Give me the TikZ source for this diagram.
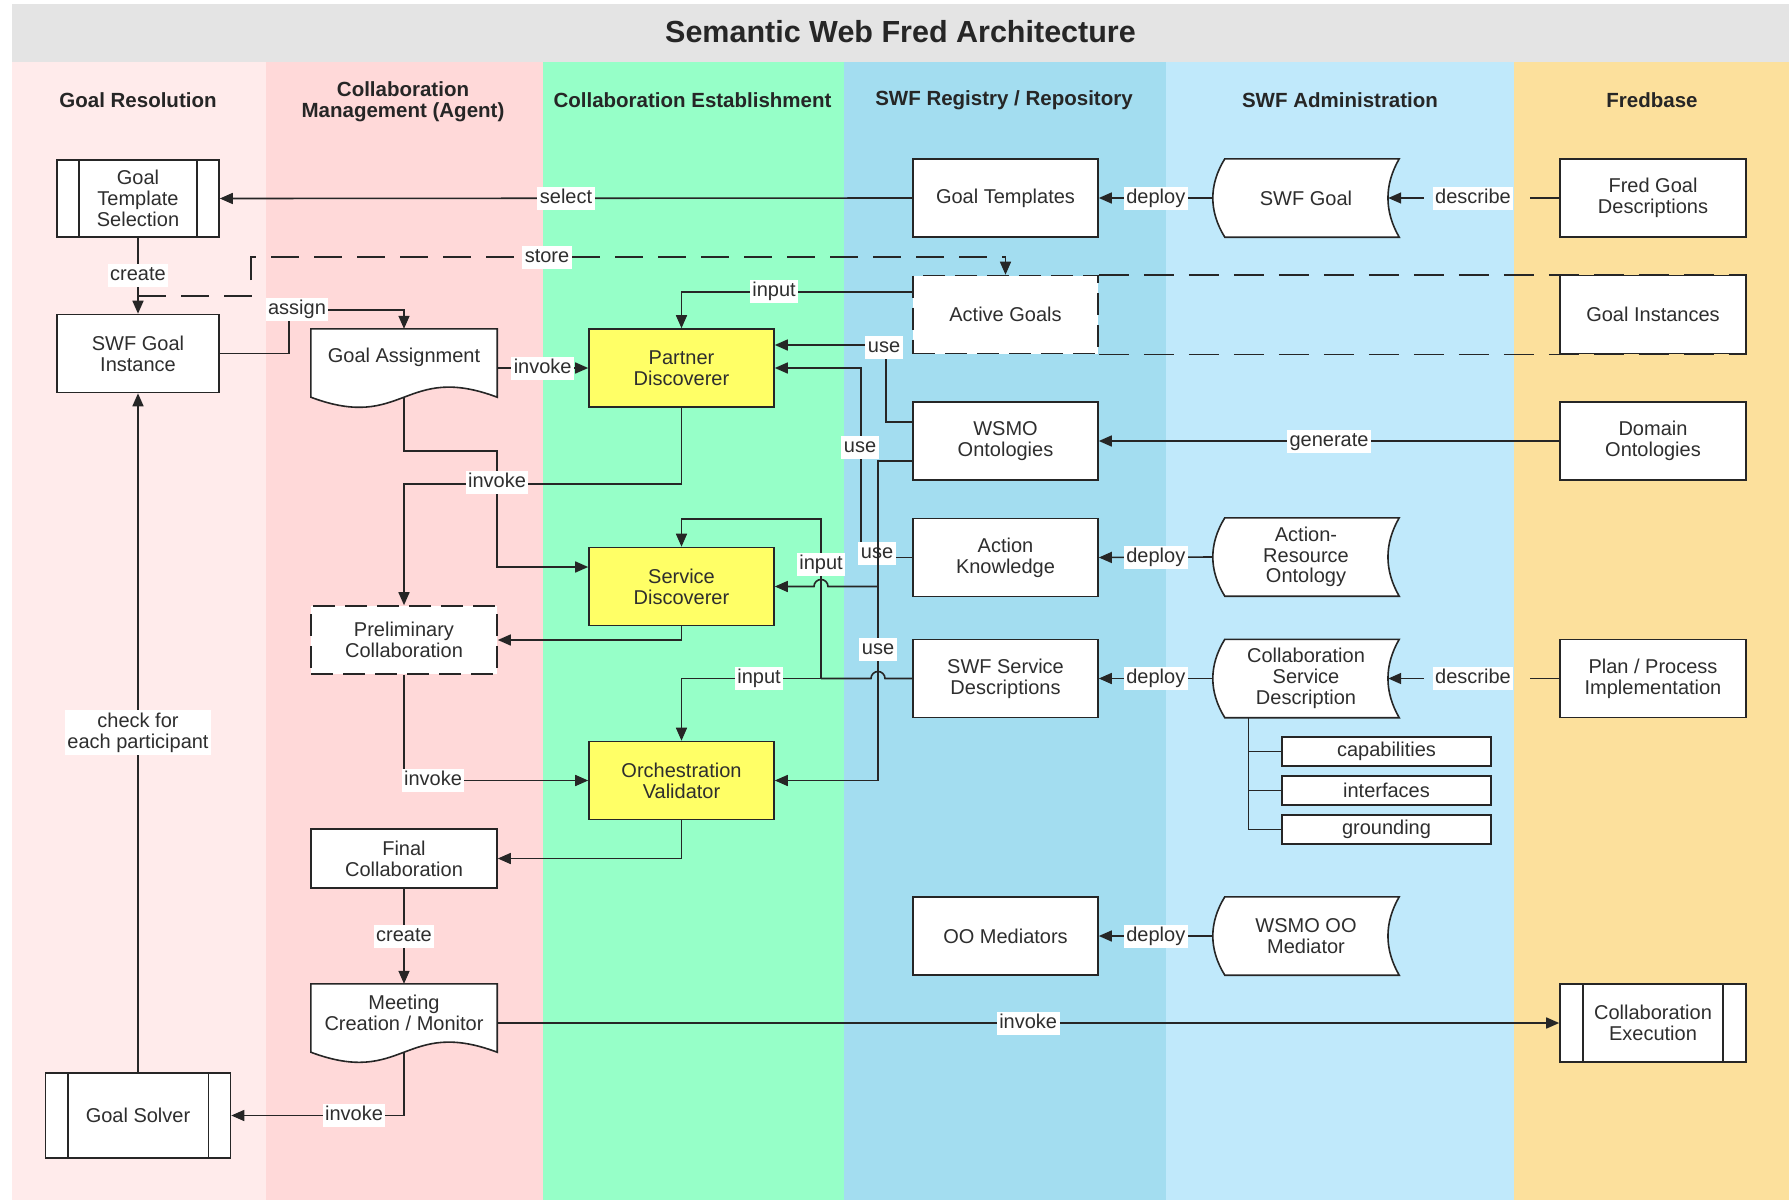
\documentclass[tikz,border=0pt]{standalone}
\usepackage{fontspec}
\setmainfont{Liberation Sans}
\usetikzlibrary{arrows.meta,calc}

\definecolor{ink}{HTML}{262626}
\definecolor{txt}{HTML}{2E2E2E}
\definecolor{titlebg}{HTML}{E4E4E4}
\definecolor{laneA}{HTML}{FFEBEB}
\definecolor{laneB}{HTML}{FFD9D9}
\definecolor{laneC}{HTML}{96FFC8}
\definecolor{laneD}{HTML}{A3DDF0}
\definecolor{laneE}{HTML}{C0E9FB}
\definecolor{laneF}{HTML}{FCE09C}
\definecolor{agentfill}{HTML}{FFFF66}

\newcommand\boxfont{\fontsize{20}{20.7}\selectfont}
\newcommand\hdrfont{\bfseries\fontsize{20.5}{20.7}\selectfont}
\newcommand\ttlfont{\bfseries\fontsize{30.5}{34}\selectfont}

\pgfdeclarelayer{lanes}
\pgfdeclarelayer{forms}
\pgfsetlayers{lanes,forms,main}

% vertical side bars of a predefined-process box
\newcommand\procbars[2]{%
  \draw[edge] ($(#1.north west)+(#2,0)$) -- ($(#1.south west)+(#2,0)$);
  \draw[edge] ($(#1.north east)+(-#2,0)$) -- ($(#1.south east)+(-#2,0)$);}
% stored-data outline: convex left side, concave right side
\newcommand\storeddata[1]{%
  \filldraw[shapeline] ($(#1.north west)+(12,0)$) -- (#1.north east)
    .. controls +(-15,26) and +(-15,-26) .. (#1.south east)
    -- ($(#1.south west)+(12,0)$)
    .. controls +(-16,-26) and +(-16,26) .. ($(#1.north west)+(12,0)$) -- cycle;}
% document outline with a wavy bottom edge
\newcommand\docshape[1]{%
  \filldraw[shapeline] (#1.south east) -- (#1.north east) -- (#1.north west) -- (#1.south west)
    .. controls ($(#1.south)+(0,35)$) and ($(#1.south)+(0,-35)$) .. (#1.south east) -- cycle;}

\begin{document}
\begin{tikzpicture}[x=1pt,y=-1pt,
  edge/.style={draw=ink, line width=1.6pt},
  conn/.style={edge, -{Triangle[length=13pt,width=11pt]}},
  dconn/.style={conn, dash pattern=on 28pt off 15pt},
  lbl/.style={fill=white, font=\boxfont, text=txt, align=center,
    inner xsep=2.5pt, inner ysep=2pt, text height=14.5pt, text depth=4.5pt},
  lbltwo/.style={fill=white, font=\boxfont, text=txt, align=center,
    inner xsep=2.5pt, inner ysep=3pt},
  box/.style={draw=ink, line width=1.6pt, fill=white, align=center, inner sep=0pt,
    font=\boxfont, text=txt, minimum width=185pt, minimum height=78pt},
  agent/.style={box, fill=agentfill},
  dbox/.style={box, dash pattern=on 22pt off 10pt},
  small/.style={box, minimum width=209pt, minimum height=29pt},
  plain/.style={align=center, inner sep=0pt, font=\boxfont, text=txt},
  shapeline/.style={draw=ink, line width=1.6pt, fill=white},
  hdr/.style={align=center, inner sep=0pt, font=\hdrfont, text=black!85},
]
\useasboundingbox (0,0) rectangle (1789,1202);

% ---------------- swimlanes ----------------
\begin{pgfonlayer}{lanes}
  \fill[white] (0,0) rectangle (1789,1202);
  \fill[titlebg] (11.5,4) rectangle (1789,61.5);
  \fill[laneA] (11.5,61.5) rectangle (266,1200);
  \fill[laneB] (266,61.5) rectangle (543,1200);
  \fill[laneC] (543,61.5) rectangle (844,1200);
  \fill[laneD] (844,61.5) rectangle (1166,1200);
  \fill[laneE] (1166,61.5) rectangle (1514,1200);
  \fill[laneF] (1514,61.5) rectangle (1789,1200);
\end{pgfonlayer}

\node[hdr, font=\ttlfont] (title) at (900.5,32) {Semantic Web Fred Architecture};
\node[hdr] (hA) at (138,100) {Goal Resolution};
\node[hdr] (hB) at (403,102) {Collaboration\\Management (Agent)};
\node[hdr] (hC) at (692.5,100) {Collaboration Establishment};
\node[hdr] (hD) at (1004,100) {SWF Registry / Repository};
\node[hdr] (hE) at (1340,100) {SWF Administration};
\node[hdr] (hF) at (1652,100) {Fredbase};

% ---------------- Goal Resolution ----------------
\node[box, minimum width=162pt, minimum height=77pt] (gts) at (138,198.5) {Goal\\Template\\Selection};
\procbars{gts}{23}
\node[box, minimum width=162pt] (sgi) at (138,353.5) {SWF Goal\\Instance};
\node[box, minimum height=85pt] (gs) at (138,1115.5) {Goal Solver};
\procbars{gs}{23}

% ---------------- Collaboration Management ----------------
\node[plain, minimum width=186pt, minimum height=68pt] (ga) at (404,363) {};
\node[plain] (ga-t) at (404,357) {Goal Assignment};
\node[dbox, minimum width=186pt, minimum height=68pt] (pc) at (404,640) {Preliminary\\Collaboration};
\node[box, minimum width=186pt, minimum height=59pt] (fc) at (404,858.5) {Final\\Collaboration};
\node[plain, minimum width=186pt, minimum height=68pt] (mcm) at (404,1018) {};
\node[plain] (mcm-t) at (404,1012.5) {Meeting\\Creation / Monitor};
\begin{pgfonlayer}{forms}
  \docshape{ga}
  \docshape{mcm}
\end{pgfonlayer}

% ---------------- Collaboration Establishment ----------------
\node[agent] (pd) at (681.5,368) {Partner\\Discoverer};
\node[agent] (sd) at (681.5,586.5) {Service\\Discoverer};
\node[agent] (ov) at (681.5,780.5) {Orchestration\\Validator};

% ---------------- Registry / Repository ----------------
\node[box] (gt) at (1005.5,198) {Goal Templates};
\node[dbox] (ag) at (1005.5,314.5) {Active Goals};
\node[box] (wo) at (1005.5,441) {WSMO\\Ontologies};
\node[box] (ak) at (1005.5,557.5) {Action\\Knowledge};
\node[box] (ssd) at (1005.5,678.5) {SWF Service\\Descriptions};
\node[box] (oom) at (1005.5,936) {OO Mediators};

% ---------------- Administration ----------------
\node[plain, minimum width=186pt, minimum height=78pt] (swfg) at (1306,198) {SWF Goal};
\node[plain, minimum width=186pt, minimum height=78pt] (aro) at (1306,557) {Action-\\Resource\\Ontology};
\node[plain, minimum width=186pt, minimum height=78pt] (csd) at (1306,678.5) {Collaboration\\Service\\Description};
\node[plain, minimum width=186pt, minimum height=78pt] (wom) at (1306,936) {WSMO OO\\Mediator};
\begin{pgfonlayer}{forms}
  \storeddata{swfg}
  \storeddata{aro}
  \storeddata{csd}
  \storeddata{wom}
\end{pgfonlayer}
\node[small] (cap1) at (1386.5,751.5) {capabilities};
\node[small] (cap2) at (1386.5,790.5) {interfaces};
\node[small] (cap3) at (1386.5,829.5) {grounding};

% ---------------- Fredbase ----------------
\node[box, minimum width=186pt] (fgd) at (1653,198) {Fred Goal\\Descriptions};
\node[box, minimum width=186pt] (gi) at (1653,314.5) {Goal Instances};
\node[box, minimum width=186pt] (dom) at (1653,441) {Domain\\Ontologies};
\node[box, minimum width=186pt] (ppi) at (1653,678.5) {Plan / Process\\Implementation};
\node[box, minimum width=186pt] (ce) at (1653,1023) {Collaboration\\Execution};
\procbars{ce}{24}

% active goals are kept with the goal instances
\draw[edge, dash pattern=on 30pt off 15pt] (ag.north east) -- (gi.north east);
\draw[edge, dash pattern=on 30pt off 15pt] (ag.south east) -- (gi.south east);

% ---------------- connectors ----------------
\draw[conn] (gt.west) -- node[lbl]{select} (gts.east);
\draw[conn] (swfg.west) -- node[lbl]{deploy} (gt.east);
\node[lbl] (ds1) at (1473,198) {describe};
\draw[edge] (fgd.west) -- ($(ds1.east)+(16,0)$);
\draw[conn] ($(ds1.west)+(-9,0)$) -- ($(swfg.east)+(-11,0)$);

\draw[conn] (gts.south) -- node[lbl]{create} (sgi.north);
\coordinate (st0) at (138,296);
\coordinate (st1) at (251,257);
\draw[dconn] (st0) -| (st1) -| (ag.north) node[lbl] at (547,257) {store};

\draw[conn] (sgi.east) -| (289,310) -| (ga.north) node[lbl] at (297,309) {assign};
\draw[conn] (ga.east |- pd.west) -- node[lbl]{invoke} (pd.west);
\draw[conn] (ga.south) |- (497,451) |- ($(sd.west)+(0,-19.5)$);
\draw[conn] (pd.south) |- (404,484) -- (pc.north);
\node[lbl] (inv2) at (497,482) {invoke};
\draw[conn] (sd.south) |- (pc.east);
\draw[conn] (pc.south) |- (ov.west) node[lbl] at (433,780.5) {invoke};
\draw[conn] (ov.south) |- (fc.east);
\draw[conn] (fc.south) -- node[lbl]{create} (mcm.north);
\draw[conn] (mcm.east |- ce.west) -- node[lbl]{invoke} (ce.west);
\draw[conn] (mcm.south) |- (gs.east) node[lbl] at (354,1115.5) {invoke};
\draw[conn] (gs.north) -- node[lbltwo]{check for\\each participant} (sgi.south);

\draw[conn] ($(ag.west)+(0,-22.5)$) -| (pd.north) node[lbl] at (774,291) {input};
\draw[conn] ($(wo.west)+(0,-19)$) -| (886,345) -- ($(pd.east)+(0,-23)$) node[lbl] at (884,347) {use};
\draw[conn] (ak.west) -| (861,368) -- (pd.east) node[lbl] at (860,447) {use} node[lbl] at (877,553) {use};
\draw[conn] ($(wo.west)+(0,20)$) -| (878,780.5) -- (ov.east) node[lbl] at (878,649) {use};
\draw[conn] (878,586.5) -- (828,586.5) arc[start angle=0,end angle=180,radius=7pt] -- (sd.east);
\draw[edge] (ssd.west) -- (885,678.5) arc[start angle=0,end angle=180,radius=7pt] -- (821,678.5);
\draw[conn] (821,678.5) |- (681.5,519) -- (sd.north) node[lbl] at (821,564) {input};
\draw[conn] (821,678.5) -| (ov.north) node[lbl] at (759,678.5) {input};

\draw[conn] (dom.west) -- node[lbl]{generate} (wo.east);
\draw[conn] (aro.west) -- node[lbl]{deploy} (ak.east);
\draw[conn] (csd.west) -- node[lbl]{deploy} (ssd.east);
\draw[conn] (wom.west) -- node[lbl]{deploy} (oom.east);
\node[lbl] (ds2) at (1473,678.5) {describe};
\draw[edge] (ppi.west) -- ($(ds2.east)+(16,0)$);
\draw[conn] ($(ds2.west)+(-9,0)$) -- ($(csd.east)+(-11,0)$);

\coordinate (trunk) at ($(csd.south)+(-57.5,0)$);
\draw[edge] (trunk) |- (cap3.west);
\draw[edge] (trunk |- cap1.west) -- (cap1.west);
\draw[edge] (trunk |- cap2.west) -- (cap2.west);
\end{tikzpicture}
\end{document}
